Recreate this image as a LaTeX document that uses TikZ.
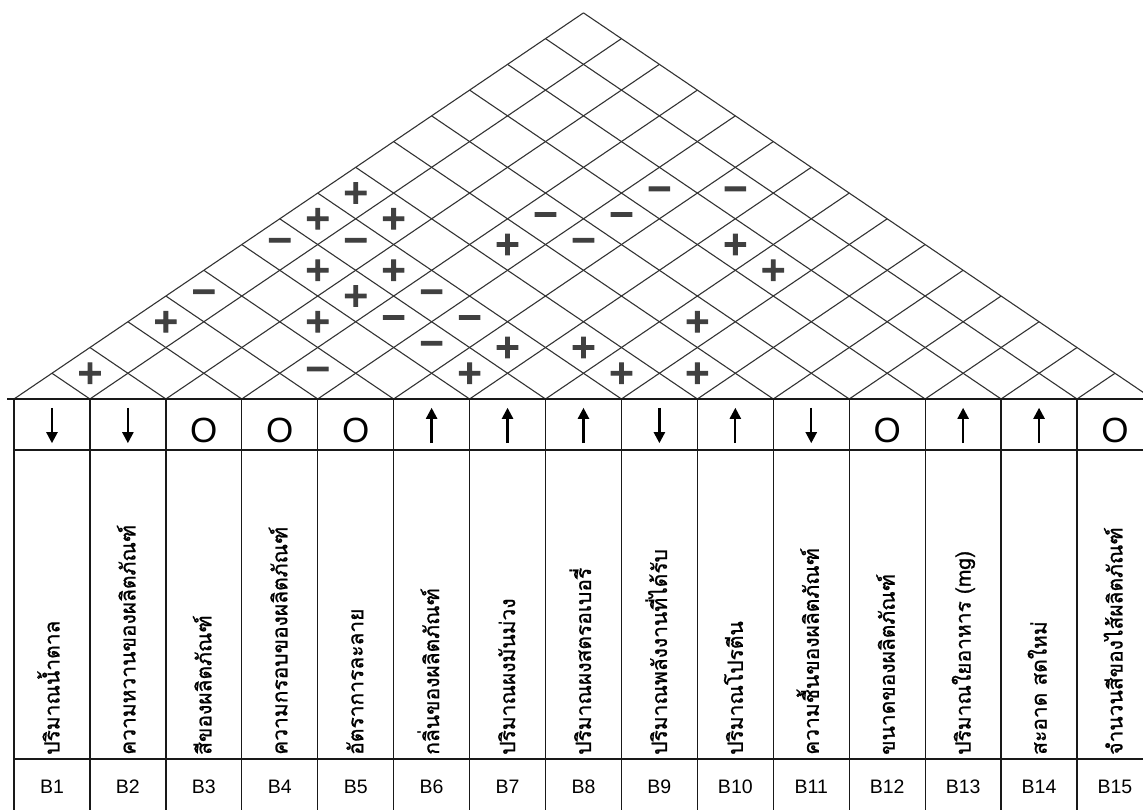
\documentclass[tikz,border=0pt]{standalone}
\usepackage{fontspec}
\setmainfont{Liberation Sans}
\newfontfamily\thaifont[Script=Thai,FakeBold=1]{Loma}
\newfontfamily\signfont[FakeBold=3]{DejaVu Sans Bold}
\usetikzlibrary{arrows.meta}
\begin{document}
\begin{tikzpicture}[x=1pt,y=1pt]
\tikzset{
 gridline/.style={line width=1.3pt, draw=black!90},
 roofline/.style={line width=1.1pt, draw=black!80},
 dircell/.style={minimum width=70pt, minimum height=51pt, inner sep=0pt},
 dirarrow/.style={line width=2.3pt, -{Triangle[width=11pt,length=11pt]}},
 circmark/.style={font=\fontsize{35}{35}\selectfont, inner sep=0pt, anchor=base},
 thaitext/.style={font=\thaifont\fontsize{21}{21}\selectfont, rotate=90, anchor=base west, inner sep=0pt},
 blabel/.style={font=\fontsize{19.5}{19.5}\selectfont, inner sep=0pt},
 signmark/.style={font=\signfont\fontsize{33}{33}\selectfont, text=black!75, inner sep=0pt},
}
\useasboundingbox (0,0) rectangle (1143,810);
\clip (0,0) rectangle (1143,810);
\def\W{75.93}
% roof grid
\foreach \k in {0,...,14} {
  \pgfmathsetmacro\xk{14+\k*\W}
  \pgfmathsetmacro\xr{(\xk+1152.95)/2}
  \pgfmathsetmacro\yr{411+(1152.95-\xk)/2*0.678}
  \draw[roofline] (\xk,411) -- (\xr,\yr);
}
\foreach \k in {1,...,15} {
  \pgfmathsetmacro\xk{14+\k*\W}
  \pgfmathsetmacro\xl{(\xk+14)/2}
  \pgfmathsetmacro\yl{411+(\xk-14)/2*0.678}
  \draw[roofline] (\xk,411) -- (\xl,\yl);
}
% table
\draw[gridline] (7,411) -- (1165,411);
\draw[gridline] (14,360) -- (1165,360);
\draw[gridline] (14,51) -- (1165,51);
\foreach \k in {0,...,15} {
  \pgfmathsetmacro\xk{14+\k*\W}
  \draw[gridline] (\xk,411) -- (\xk,-5);
}
% direction row
\foreach \c in {1,2,9,11} {
  \pgfmathsetmacro\xc{14+(\c-0.5)*\W}
  \node[dircell] (d\c) at (\xc,385.5) {};
  \draw[dirarrow] ([yshift=-9pt]d\c.north) -- ([yshift=7pt]d\c.south);
}
\foreach \c in {6,7,8,10,13,14} {
  \pgfmathsetmacro\xc{14+(\c-0.5)*\W}
  \node[dircell] (d\c) at (\xc,385.5) {};
  \draw[dirarrow] ([yshift=7pt]d\c.south) -- ([yshift=-9pt]d\c.north);
}
\foreach \c in {3,4,5,12,15} {
  \pgfmathsetmacro\xc{14+(\c-0.5)*\W}
  \node[circmark] (d\c) at (\xc,367) {O};
}
% requirement texts
\foreach \c/\txt in {1/ปริมาณน้ำตาล, 2/ความหวานของผลิตภัณฑ์, 3/สีของผลิตภัณฑ์, 4/ความกรอบของผลิตภัณฑ์, 5/อัตราการละลาย, 6/กลิ่นของผลิตภัณฑ์, 7/ปริมาณผงมันม่วง, 8/ปริมาณผงสตรอเบอรี่, 9/ปริมาณพลังงานที่ได้รับ, 10/ปริมาณโปรตีน, 11/ความชื้นของผลิตภัณฑ์, 12/ขนาดของผลิตภัณฑ์, 13/ปริมาณใยอาหาร (mg), 14/สะอาด สดใหม่, 15/จำนวนสีของไส้ผลิตภัณฑ์} {
  \pgfmathsetmacro\xc{14+(\c-0.5)*\W+7.5}
  \node[thaitext] (t\c) at (\xc,55) {\txt};
}
% labels
\foreach \c in {1,...,15} {
  \pgfmathsetmacro\xc{14+(\c-0.5)*\W}
  \node[blabel] (b\c) at (\xc,23) {B\c};
}
% roof correlations
\foreach \i/\j in {1/2,1/4,1/8,1/9,2/7,2/9,3/6,3/7,3/8,4/10,6/7,6/8,7/9,7/13,8/9,8/11,8/13,9/10} {
  \pgfmathsetmacro\xs{14+((\i+\j)/2-0.5)*\W}
  \pgfmathsetmacro\ys{411+(\j-\i)*25.74}
  \node[signmark] (r\i-\j) at (\xs,\ys) {+};
}
\foreach \i/\j in {1/5,1/7,2/8,4/5,4/7,4/8,4/11,5/7,5/8,5/11,5/12,5/13,6/14} {
  \pgfmathsetmacro\xs{14+((\i+\j)/2-0.5)*\W}
  \pgfmathsetmacro\ys{411+(\j-\i)*25.74}
  \node[signmark] (r\i-\j) at (\xs,\ys) {−};
}
\end{tikzpicture}
\end{document}
